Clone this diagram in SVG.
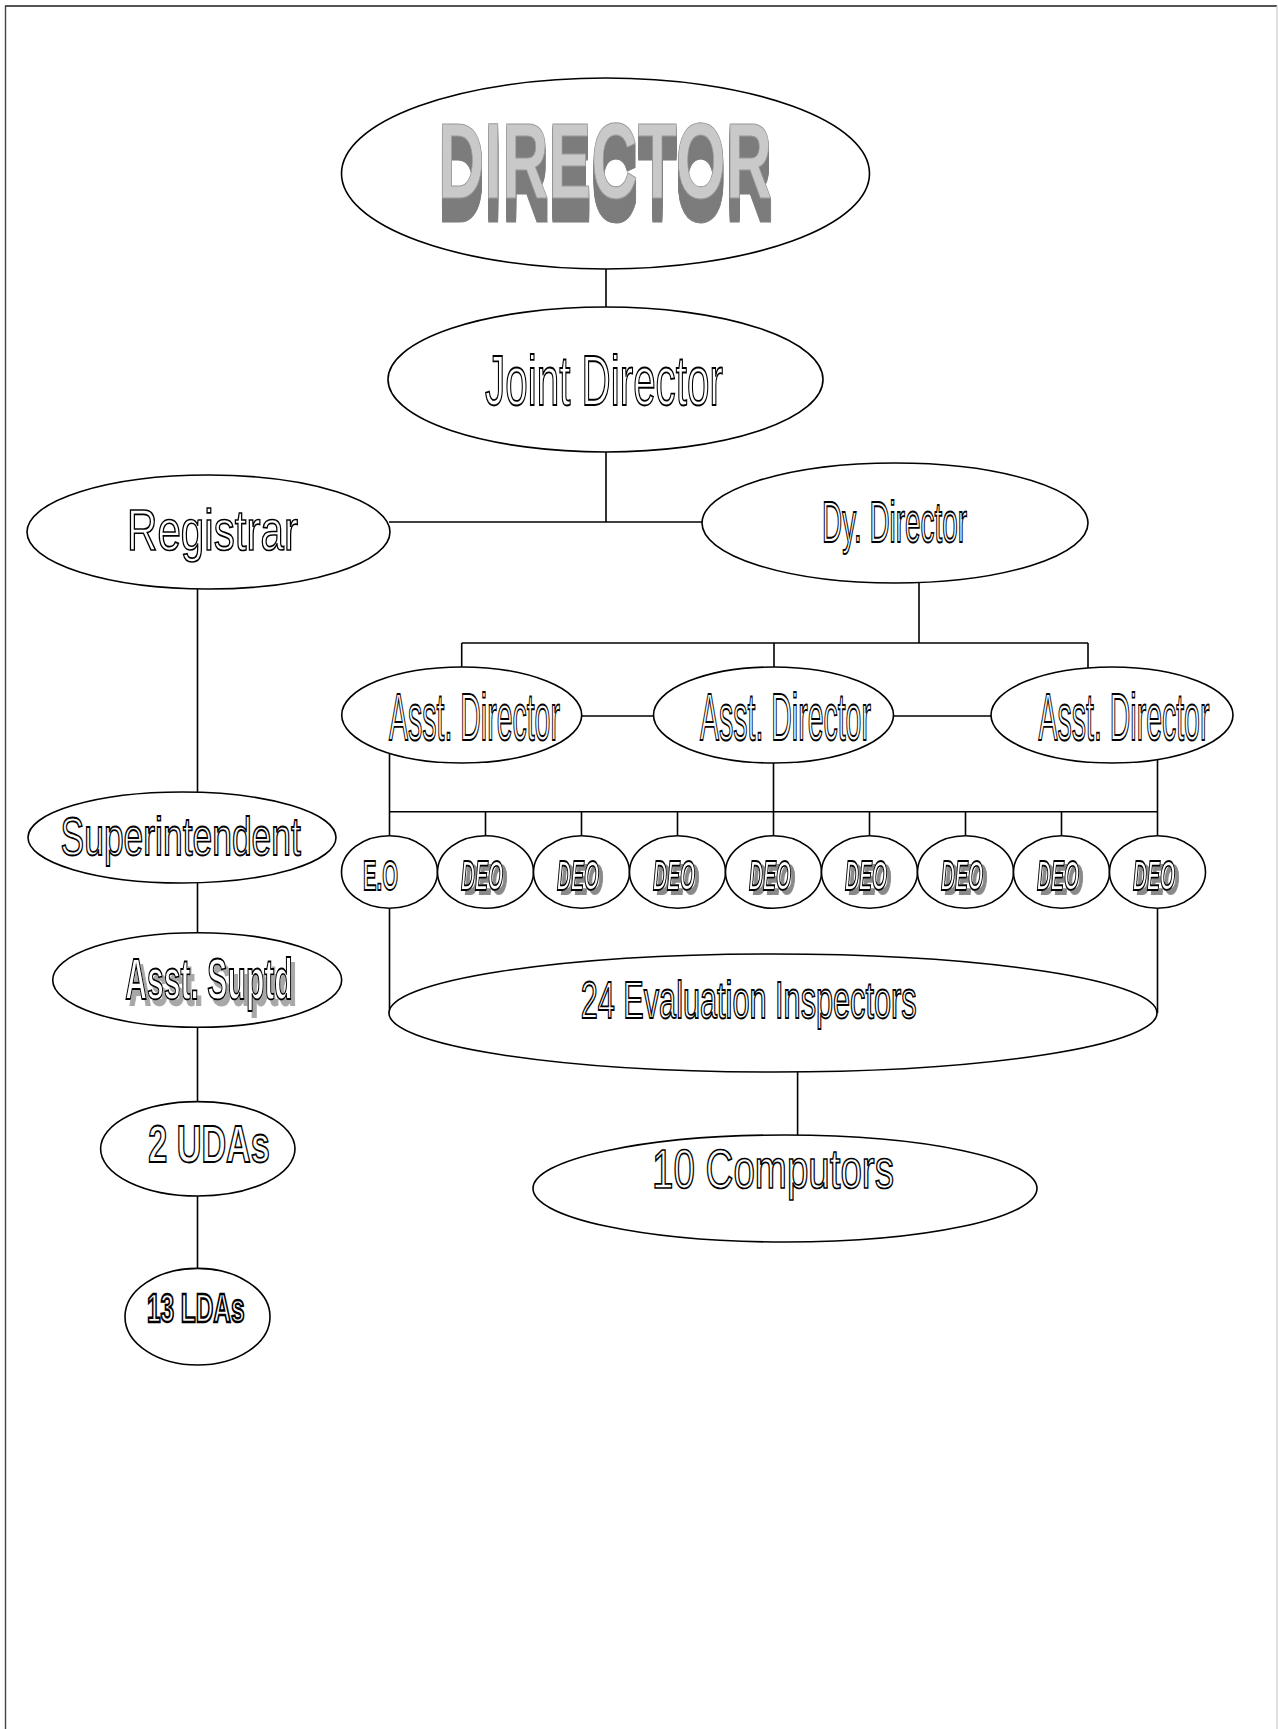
<svg xmlns="http://www.w3.org/2000/svg" width="1278" height="1729" viewBox="0 0 1278 1729">
<defs>
<style>
.n{fill:#fff;stroke:#000;stroke-width:1.6}
.c{fill:none;stroke:#000;stroke-width:1.6}
.t{font-family:"Liberation Sans",Arial,sans-serif;fill:#fff;stroke:#000;stroke-width:1.5;text-anchor:middle;vector-effect:non-scaling-stroke}
.b{font-weight:bold}
.i{font-style:italic}
</style>
<filter id="ext" x="-5%" y="-10%" width="110%" height="160%">
<feFlood flood-color="#7c7c7c" result="c"/>
<feComposite in="c" in2="SourceAlpha" operator="in" result="s"/>
<feOffset in="s" dx="0" dy="2" result="o1"/>
<feOffset in="s" dx="0" dy="4" result="o2"/>
<feOffset in="s" dx="0" dy="6" result="o3"/>
<feOffset in="s" dx="0" dy="8" result="o4"/>
<feOffset in="s" dx="0" dy="10" result="o5"/>
<feOffset in="s" dx="0" dy="12" result="o6"/>
<feOffset in="s" dx="0" dy="14" result="o7"/>
<feOffset in="s" dx="0" dy="16" result="o8"/>
<feOffset in="s" dx="0" dy="18" result="o9"/>
<feOffset in="s" dx="0" dy="20" result="o10"/>
<feOffset in="s" dx="0" dy="22" result="o11"/>
<feOffset in="s" dx="0" dy="24" result="o12"/>
<feMerge>
<feMergeNode in="o12"/><feMergeNode in="o11"/><feMergeNode in="o10"/><feMergeNode in="o9"/>
<feMergeNode in="o8"/><feMergeNode in="o7"/><feMergeNode in="o6"/><feMergeNode in="o5"/>
<feMergeNode in="o4"/><feMergeNode in="o3"/><feMergeNode in="o2"/><feMergeNode in="o1"/>
<feMergeNode in="SourceGraphic"/>
</feMerge>
</filter>
<filter id="shd" x="-10%" y="-20%" width="130%" height="150%">
<feFlood flood-color="#8a8a8a" result="c"/>
<feComposite in="c" in2="SourceAlpha" operator="in" result="s"/>
<feOffset in="s" dx="8" dy="4" result="o"/>
<feMerge><feMergeNode in="o"/><feMergeNode in="SourceGraphic"/></feMerge>
</filter>
<filter id="shd2" x="-10%" y="-20%" width="130%" height="150%">
<feFlood flood-color="#a8a8a8" result="c"/>
<feComposite in="c" in2="SourceAlpha" operator="in" result="s"/>
<feOffset in="s" dx="8" dy="6" result="o"/>
<feMerge><feMergeNode in="o"/><feMergeNode in="SourceGraphic"/></feMerge>
</filter>
</defs>
<rect width="1278" height="1729" fill="#fff"/>
<g id="frame">
<line x1="5" y1="6" x2="1277" y2="6" stroke="#555" stroke-width="2"/>
<line x1="5.5" y1="6" x2="5.5" y2="1729" stroke="#444" stroke-width="1.4"/>
<line x1="1277" y1="6" x2="1277" y2="1729" stroke="#d0d0d0" stroke-width="1.4"/>
</g>
<g id="connectors" class="c">
<line x1="606" y1="269" x2="606" y2="307"/>
<line x1="606" y1="452" x2="606" y2="522"/>
<line x1="389" y1="522" x2="702" y2="522"/>
<line x1="197.5" y1="589" x2="197.5" y2="792"/>
<line x1="197.5" y1="883" x2="197.5" y2="933"/>
<line x1="197.5" y1="1027" x2="197.5" y2="1102"/>
<line x1="197.5" y1="1196" x2="197.5" y2="1268"/>
<line x1="919" y1="583" x2="919" y2="643"/>
<line x1="461.7" y1="643" x2="1088" y2="643"/>
<line x1="461.7" y1="643" x2="461.7" y2="667"/>
<line x1="774" y1="643" x2="774" y2="667"/>
<line x1="1088" y1="643" x2="1088" y2="668"/>
<line x1="582" y1="716" x2="653" y2="716"/>
<line x1="894" y1="716" x2="991" y2="716"/>
<line x1="389.5" y1="754" x2="389.5" y2="836"/>
<line x1="773.5" y1="763" x2="773.5" y2="836"/>
<line x1="1157.5" y1="759" x2="1157.5" y2="836"/>
<line x1="389.5" y1="811.7" x2="1157.5" y2="811.7"/>
<line x1="485.5" y1="811.7" x2="485.5" y2="836"/>
<line x1="581.5" y1="811.7" x2="581.5" y2="836"/>
<line x1="677.5" y1="811.7" x2="677.5" y2="836"/>
<line x1="869.5" y1="811.7" x2="869.5" y2="836"/>
<line x1="965.5" y1="811.7" x2="965.5" y2="836"/>
<line x1="1061.5" y1="811.7" x2="1061.5" y2="836"/>
<line x1="389.5" y1="908" x2="389.5" y2="1013"/>
<line x1="1157.5" y1="908" x2="1157.5" y2="1013"/>
<line x1="797.6" y1="1072" x2="797.6" y2="1135"/>
</g>
<g id="director">
<ellipse class="n" cx="605.5" cy="173.5" rx="264" ry="95.5" stroke-width="2"/>
<text transform="translate(605,198) scale(0.6,1)" font-family="Liberation Sans, Arial, sans-serif" font-weight="bold" font-size="107" text-anchor="middle" fill="#c9c9c9" stroke="#9a9a9a" stroke-width="1" filter="url(#ext)">DIRECTOR</text>
</g>
<g id="joint-director">
<ellipse class="n" cx="605.5" cy="379.5" rx="217.5" ry="72.5"/>
<text class="t" transform="translate(604,405) scale(0.577,1)" font-size="70">Joint Director</text>
</g>
<g id="registrar">
<ellipse class="n" cx="208.5" cy="532" rx="181.5" ry="57"/>
<text class="t" transform="translate(212.5,550) scale(0.74,1)" font-size="57">Registrar</text>
</g>
<g id="dy-director">
<ellipse class="n" cx="895" cy="523" rx="193" ry="60"/>
<text class="t" transform="translate(894.5,542) scale(0.48,1)" font-size="58">Dy. Director</text>
</g>
<g id="asst-director-1">
<ellipse class="n" cx="461.7" cy="715" rx="120" ry="48"/>
<text class="t" transform="translate(474.5,740) scale(0.425,1)" font-size="67">Asst. Director</text>
</g>
<g id="asst-director-2">
<ellipse class="n" cx="773.5" cy="715" rx="120" ry="48"/>
<text class="t" transform="translate(785.5,740) scale(0.425,1)" font-size="67">Asst. Director</text>
</g>
<g id="asst-director-3">
<ellipse class="n" cx="1112" cy="715" rx="121" ry="48"/>
<text class="t" transform="translate(1124,740) scale(0.425,1)" font-size="67">Asst. Director</text>
</g>
<g id="eo">
<ellipse class="n" cx="389.5" cy="872" rx="48" ry="36.3"/>
<text class="t b" transform="translate(380.5,890) scale(0.483,1)" font-size="42">E.O</text>
</g>
<g id="deo-1">
<ellipse class="n" cx="485.5" cy="872" rx="48" ry="36.3"/>
<text class="t b i" transform="translate(482,890) scale(0.46,1)" font-size="42" filter="url(#shd)">DEO</text>
</g>
<g id="deo-2">
<ellipse class="n" cx="581.5" cy="872" rx="48" ry="36.3"/>
<text class="t b i" transform="translate(578,890) scale(0.46,1)" font-size="42" filter="url(#shd)">DEO</text>
</g>
<g id="deo-3">
<ellipse class="n" cx="677.5" cy="872" rx="48" ry="36.3"/>
<text class="t b i" transform="translate(674,890) scale(0.46,1)" font-size="42" filter="url(#shd)">DEO</text>
</g>
<g id="deo-4">
<ellipse class="n" cx="773.5" cy="872" rx="48" ry="36.3"/>
<text class="t b i" transform="translate(770,890) scale(0.46,1)" font-size="42" filter="url(#shd)">DEO</text>
</g>
<g id="deo-5">
<ellipse class="n" cx="869.5" cy="872" rx="48" ry="36.3"/>
<text class="t b i" transform="translate(866,890) scale(0.46,1)" font-size="42" filter="url(#shd)">DEO</text>
</g>
<g id="deo-6">
<ellipse class="n" cx="965.5" cy="872" rx="48" ry="36.3"/>
<text class="t b i" transform="translate(962,890) scale(0.46,1)" font-size="42" filter="url(#shd)">DEO</text>
</g>
<g id="deo-7">
<ellipse class="n" cx="1061.5" cy="872" rx="48" ry="36.3"/>
<text class="t b i" transform="translate(1058,890) scale(0.46,1)" font-size="42" filter="url(#shd)">DEO</text>
</g>
<g id="deo-8">
<ellipse class="n" cx="1157.5" cy="872" rx="48" ry="36.3"/>
<text class="t b i" transform="translate(1154,890) scale(0.46,1)" font-size="42" filter="url(#shd)">DEO</text>
</g>
<g id="evaluation-inspectors">
<ellipse class="n" cx="773" cy="1013" rx="384" ry="59"/>
<text class="t" transform="translate(748.6,1018) scale(0.59,1)" font-size="52">24 Evaluation Inspectors</text>
</g>
<g id="computors">
<ellipse class="n" cx="785" cy="1188.5" rx="252" ry="53.5"/>
<text class="t" transform="translate(773,1188) scale(0.688,1)" font-size="56">10 Computors</text>
</g>
<g id="superintendent">
<ellipse class="n" cx="182" cy="837.5" rx="154" ry="45.5"/>
<text class="t" transform="translate(180.7,855) scale(0.656,1)" font-size="54">Superintendent</text>
</g>
<g id="asst-suptd">
<ellipse class="n" cx="197.2" cy="980" rx="144.5" ry="47.3"/>
<text class="t b" transform="translate(209,999) scale(0.52,1)" font-size="58" filter="url(#shd2)">Asst. Suptd</text>
</g>
<g id="udas">
<ellipse class="n" cx="197.8" cy="1148.8" rx="97.2" ry="47.2"/>
<text class="t b" transform="translate(209,1162) scale(0.67,1)" font-size="51">2 UDAs</text>
</g>
<g id="ldas">
<ellipse class="n" cx="197.5" cy="1316.7" rx="72.5" ry="48.3"/>
<text class="t b" transform="translate(195.7,1322) scale(0.61,1)" font-size="40" style="stroke-width:2">13 LDAs</text>
</g>
</svg>
